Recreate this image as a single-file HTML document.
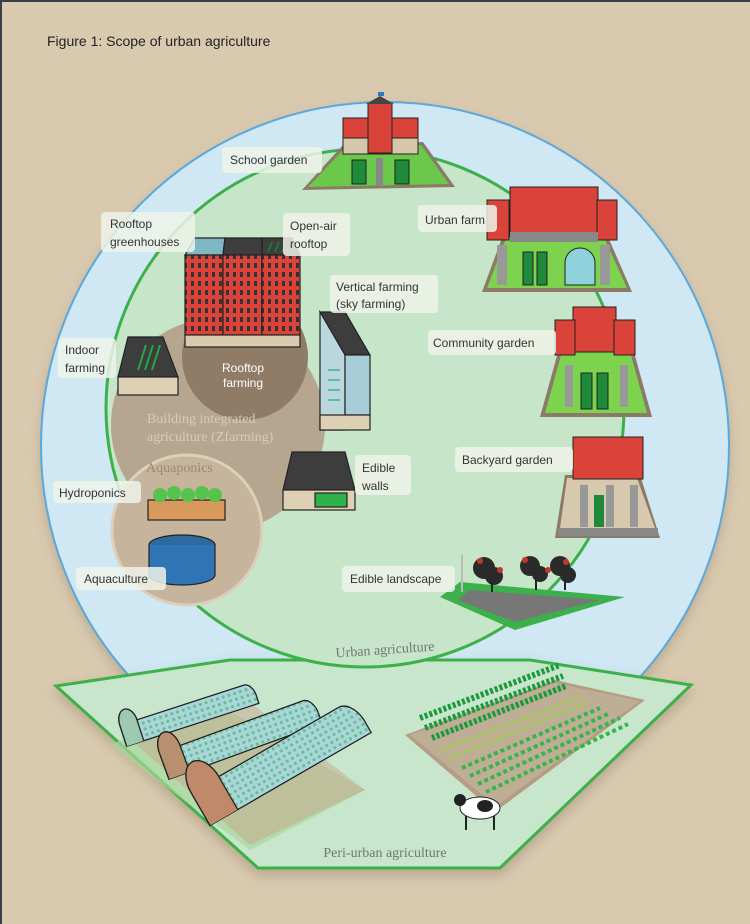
<!DOCTYPE html>
<html><head><meta charset="utf-8"><style>
html,body{margin:0;padding:0;background:#d9c9af;}
svg{display:block}
.lb{font-family:"Liberation Sans",sans-serif;font-size:12px;fill:#333;}
.bx{fill:#eef3ea;opacity:.85}
.ser{font-family:"Liberation Serif",serif;}
</style></head><body>
<svg width="750" height="924" viewBox="0 0 750 924" xmlns="http://www.w3.org/2000/svg">
<defs>
<filter id="sh" x="-10%" y="-10%" width="120%" height="130%"><feDropShadow dx="0" dy="6" stdDeviation="6" flood-color="#7a6a50" flood-opacity=".35"/></filter>
<pattern id="win" width="7" height="9" patternUnits="userSpaceOnUse"><rect width="7" height="9" fill="#d9433a"/><rect x="2" y="2" width="3" height="5" fill="#333"/></pattern>
<pattern id="crop" width="6" height="6" patternUnits="userSpaceOnUse"><rect width="6" height="6" fill="#a8d6dc"/><circle cx="3" cy="3" r="1.6" fill="#6cbf8a"/></pattern>
</defs>
<rect width="750" height="924" fill="#d9c9af"/>
<rect width="750" height="2" fill="#3a3f45"/><rect width="2" height="924" fill="#3a3f45"/>
<text x="47" y="46" style="font-family:'Liberation Sans',sans-serif;font-size:14px;fill:#222">Figure 1: Scope of urban agriculture</text>

<circle cx="385" cy="446" r="344" fill="#cfe8f3" filter="url(#sh)"/>
<circle cx="385" cy="446" r="344" fill="none" stroke="#5aa8dc" stroke-width="2"/>
<polygon points="56,686 230,660 530,660 691,685 500,868 258,868" fill="#c8e6cc" stroke="#3cb04a" stroke-width="3" filter="url(#sh)"/>
<circle cx="365" cy="408" r="259" fill="#c6e5c9" stroke="#3cb04a" stroke-width="3"/>

<circle cx="218" cy="425" r="107" fill="#b6a690"/>
<circle cx="245" cy="357" r="63" fill="#8f7b66"/>
<circle cx="187" cy="530" r="75" fill="#c6b59c" stroke="#ddd0bb" stroke-width="3"/>
<text x="147" y="423" class="ser" style="font-size:14px;fill:#d8cbb8">Building integrated</text>
<text x="147" y="441" class="ser" style="font-size:14px;fill:#d8cbb8">agriculture (Zfarming)</text>
<text x="146" y="472" class="ser" style="font-size:14px;fill:#9a8a76">Aquaponics</text>
<text x="243" y="372" text-anchor="middle" class="lb" style="fill:#fff">Rooftop</text>
<text x="243" y="387" text-anchor="middle" class="lb" style="fill:#fff">farming</text>

<g stroke="#222" stroke-width="1.2">
<polygon points="185,255 195,238 225,238 223,255" fill="#7fb7c2"/>
<polygon points="223,255 225,238 262,238 262,255" fill="#3d3d3d"/>
<polygon points="262,255 262,238 292,238 300,255" fill="#3d3d3d"/>
<rect x="185" y="255" width="38" height="80" fill="url(#win)"/>
<rect x="223" y="255" width="39" height="80" fill="url(#win)"/>
<rect x="262" y="255" width="38" height="80" fill="url(#win)"/>
<rect x="185" y="335" width="115" height="12" fill="#d8cbb0"/>
</g>
<g stroke="#1c7a35" stroke-width="2"><line x1="268" y1="252" x2="272" y2="242"/><line x1="275" y1="252" x2="279" y2="242"/><line x1="282" y1="252" x2="286" y2="242"/></g>

<g stroke="#222" stroke-width="1.2">
<polygon points="118,377 128,337 163,337 178,377" fill="#3d3d3d"/>
<rect x="118" y="377" width="60" height="18" fill="#ddd0b5"/>
</g>
<g stroke="#2aa545" stroke-width="2"><line x1="138" y1="370" x2="146" y2="345"/><line x1="145" y1="370" x2="153" y2="345"/><line x1="152" y1="370" x2="160" y2="345"/></g>

<g stroke="#222" stroke-width="1.2">
<polygon points="320,312 345,312 370,355 345,355" fill="#3d3d3d"/>
<polygon points="320,312 345,355 345,430 320,430" fill="#b9d7dc"/>
<rect x="345" y="355" width="25" height="60" fill="#a9cdd8"/>
<rect x="320" y="415" width="50" height="15" fill="#ddd0b5"/>
</g>
<g stroke="#5fb9a8" stroke-width="2"><line x1="328" y1="370" x2="340" y2="370"/><line x1="328" y1="380" x2="340" y2="380"/><line x1="328" y1="390" x2="340" y2="390"/><line x1="328" y1="400" x2="340" y2="400"/></g>

<g stroke="#222" stroke-width="1.2">
<polygon points="283,490 292,452 345,452 355,490" fill="#3d3d3d"/>
<rect x="283" y="490" width="72" height="20" fill="#ddd0b5"/>
<rect x="315" y="493" width="32" height="14" fill="#2fb24a"/>
</g>

<g stroke="#222" stroke-width="1.2">
<ellipse cx="182" cy="545" rx="33" ry="10" fill="#2c6aa0"/>
<path d="M149,545 v30 a33,10 0 0 0 66,0 v-30" fill="#2f75b5"/>
<rect x="148" y="500" width="77" height="20" fill="#d89a5c"/>
</g>
<g fill="#56c34c"><circle cx="160" cy="495" r="7"/><circle cx="174" cy="493" r="7"/><circle cx="188" cy="495" r="7"/><circle cx="202" cy="493" r="7"/><circle cx="215" cy="495" r="7"/></g>

<polygon points="343,145 423,142 455,187 302,190" fill="#8a7a66"/>
<polygon points="345,148 421,145 449,184 308,187" fill="#6bc84a"/>
<rect x="343" y="118" width="75" height="35" fill="#d9433a" stroke="#222"/>
<rect x="343" y="138" width="75" height="16" fill="#d6c7ab" stroke="#222"/>
<rect x="368" y="103" width="24" height="50" fill="#d9433a" stroke="#222"/>
<polygon points="366,104 380,96 394,104" fill="#444"/>
<rect x="378" y="92" width="6" height="4" fill="#2a7ac4"/>
<rect x="376" y="158" width="7" height="28" fill="#888"/>
<rect x="352" y="160" width="14" height="24" fill="#1e8a3a" stroke="#222"/>
<rect x="395" y="160" width="14" height="24" fill="#1e8a3a" stroke="#222"/>

<polygon points="505,230 605,230 632,292 482,292" fill="#8a7a66"/>
<polygon points="508,233 602,233 627,288 487,288" fill="#7dd24e"/>
<rect x="510" y="187" width="88" height="50" fill="#d9433a" stroke="#222"/>
<rect x="487" y="200" width="22" height="40" fill="#d9433a" stroke="#222"/>
<rect x="597" y="200" width="20" height="40" fill="#d9433a" stroke="#222"/>
<rect x="510" y="232" width="88" height="10" fill="#888"/>
<rect x="497" y="245" width="10" height="40" fill="#999"/><rect x="600" y="245" width="10" height="40" fill="#999"/>
<rect x="523" y="252" width="10" height="33" fill="#1e8a3a" stroke="#222"/><rect x="537" y="252" width="10" height="33" fill="#1e8a3a" stroke="#222"/>
<path d="M565,285 v-22 a15,15 0 0 1 30,0 v22z" fill="#8fd2dc" stroke="#222"/>

<polygon points="560,345 632,345 652,417 540,417" fill="#8a7a66"/>
<polygon points="563,348 629,348 647,413 545,413" fill="#7dd24e"/>
<rect x="573" y="307" width="43" height="45" fill="#d9433a" stroke="#222"/>
<rect x="555" y="320" width="20" height="35" fill="#d9433a" stroke="#222"/>
<rect x="614" y="320" width="21" height="35" fill="#d9433a" stroke="#222"/>
<rect x="565" y="365" width="8" height="42" fill="#999"/><rect x="620" y="365" width="8" height="42" fill="#999"/>
<rect x="581" y="373" width="11" height="36" fill="#1e8a3a" stroke="#222"/><rect x="597" y="373" width="11" height="36" fill="#1e8a3a" stroke="#222"/>

<polygon points="565,475 640,475 660,538 555,538" fill="#8a7a66"/>
<polygon points="567,478 637,478 655,528 560,528" fill="#d6c9ae"/>
<rect x="573" y="437" width="70" height="42" fill="#d9433a" stroke="#222"/>
<rect x="580" y="485" width="8" height="42" fill="#999"/><rect x="606" y="485" width="8" height="42" fill="#999"/><rect x="630" y="485" width="8" height="42" fill="#999"/>
<rect x="594" y="495" width="10" height="32" fill="#1e8a3a"/>
<rect x="558" y="528" width="100" height="8" fill="#888"/>

<polygon points="440,597 460,582 625,597 515,630" fill="#3cb04a"/>
<polygon points="458,600 470,590 600,600 515,622" fill="#777"/>
<line x1="462" y1="555" x2="462" y2="592" stroke="#bbb" stroke-width="2"/>
<g fill="#2a2a2a"><circle cx="484" cy="568" r="11"/><circle cx="494" cy="576" r="9"/><circle cx="530" cy="566" r="10"/><circle cx="540" cy="574" r="8"/><circle cx="560" cy="566" r="10"/><circle cx="568" cy="575" r="8"/></g>
<g fill="#c0392b"><circle cx="480" cy="561" r="3"/><circle cx="500" cy="570" r="3"/><circle cx="525" cy="560" r="3"/><circle cx="548" cy="570" r="3"/><circle cx="566" cy="562" r="3"/></g>
<g stroke="#222" stroke-width="2"><line x1="492" y1="582" x2="492" y2="592"/><line x1="536" y1="580" x2="536" y2="590"/><line x1="565" y1="580" x2="565" y2="590"/></g>

<polygon points="110,745 210,700 365,790 250,850" fill="#a9d69a" opacity=".7"/>
<polygon points="120,730 240,695 365,790 250,845" fill="#c7a58c" opacity=".5"/>
<g stroke="#222" stroke-width="1.3">
<g transform="translate(187,712) rotate(-18)"><path d="M-68,14 V-8 a9,14 0 0 1 18,0 H62 a9,14 0 0 1 9,12 V14 Z" fill="url(#crop)"/><path d="M-68,14 V-8 a9,14 0 0 1 18,0 V14" fill="#9cc9b0"/></g>
<g transform="translate(238,735) rotate(-20)"><path d="M-80,18 V-10 a11,18 0 0 1 22,0 H72 a11,18 0 0 1 11,14 V18 Z" fill="url(#crop)"/><path d="M-80,18 V-10 a11,18 0 0 1 22,0 V18" fill="#b89070"/></g>
<g transform="translate(275,758) rotate(-30)"><path d="M-90,26 V-12 a16,26 0 0 1 32,0 H80 a16,26 0 0 1 16,22 V26 Z" fill="url(#crop)"/><path d="M-90,26 V-12 a16,26 0 0 1 32,0 V26" fill="#c08a6a"/></g>
</g>

<polygon points="405,735 555,680 645,700 495,812" fill="#b59d85"/>
<polygon points="410,735 555,683 640,701 496,806" fill="#bfae96"/>
<g stroke="#1a9a3c" stroke-width="6" stroke-dasharray="3 2">
<line x1="420" y1="718" x2="560" y2="665"/><line x1="425" y1="728" x2="563" y2="676"/><line x1="432" y1="738" x2="566" y2="686"/>
</g>
<g stroke="#9ccf4a" stroke-width="3" stroke-dasharray="3 2">
<line x1="442" y1="750" x2="580" y2="697"/><line x1="450" y1="758" x2="588" y2="702"/>
</g>
<g stroke="#36b54a" stroke-width="4" stroke-dasharray="4 3">
<line x1="462" y1="768" x2="600" y2="708"/><line x1="470" y1="776" x2="610" y2="713"/><line x1="478" y1="784" x2="620" y2="718"/><line x1="486" y1="792" x2="628" y2="724"/>
</g>
<ellipse cx="480" cy="808" rx="20" ry="11" fill="#fff" stroke="#222"/>
<circle cx="460" cy="800" r="6" fill="#222"/>
<ellipse cx="485" cy="806" rx="8" ry="6" fill="#222"/>
<g stroke="#222" stroke-width="2"><line x1="466" y1="816" x2="466" y2="830"/><line x1="494" y1="816" x2="494" y2="830"/></g>

<rect class="bx" x="222" y="147" width="100" height="26" rx="4"/><text class="lb" x="230" y="164">School garden</text>
<rect class="bx" x="101" y="212" width="94" height="40" rx="4"/><text class="lb" x="110" y="228">Rooftop</text><text class="lb" x="110" y="246">greenhouses</text>
<rect class="bx" x="283" y="213" width="67" height="43" rx="4"/><text class="lb" x="290" y="230">Open-air</text><text class="lb" x="290" y="248">rooftop</text>
<rect class="bx" x="418" y="205" width="79" height="27" rx="4"/><text class="lb" x="425" y="224">Urban farm</text>
<rect class="bx" x="330" y="275" width="108" height="38" rx="4"/><text class="lb" x="336" y="291">Vertical farming</text><text class="lb" x="336" y="308">(sky farming)</text>
<rect class="bx" x="58" y="338" width="58" height="40" rx="4"/><text class="lb" x="65" y="354">Indoor</text><text class="lb" x="65" y="372">farming</text>
<rect class="bx" x="428" y="330" width="128" height="25" rx="4"/><text class="lb" x="433" y="347">Community garden</text>
<rect class="bx" x="355" y="455" width="56" height="40" rx="4"/><text class="lb" x="362" y="472">Edible</text><text class="lb" x="362" y="490">walls</text>
<rect class="bx" x="455" y="447" width="118" height="25" rx="4"/><text class="lb" x="462" y="464">Backyard garden</text>
<rect class="bx" x="53" y="481" width="88" height="22" rx="4"/><text class="lb" x="59" y="497">Hydroponics</text>
<rect class="bx" x="76" y="567" width="90" height="23" rx="4"/><text class="lb" x="84" y="583">Aquaculture</text>
<rect class="bx" x="342" y="566" width="113" height="26" rx="4"/><text class="lb" x="350" y="583">Edible landscape</text>

<text x="385" y="654" text-anchor="middle" class="ser" style="font-size:14px;fill:#6d7a6d" transform="rotate(-4 385 650)">Urban agriculture</text>
<text x="385" y="857" text-anchor="middle" class="ser" style="font-size:14px;fill:#6d7a6d">Peri-urban agriculture</text>
</svg>
</body></html>
